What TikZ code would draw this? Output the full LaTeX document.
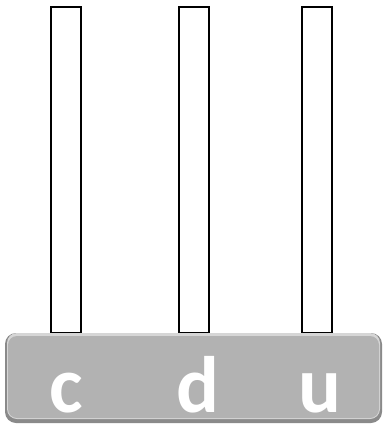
\documentclass[tikz,border=0pt]{standalone}
\usepackage{fontspec}
\newfontfamily\digitfont{Carlito}
\usepackage{tikz}
\usetikzlibrary{positioning}
\definecolor{slab}{HTML}{B2B2B2}
\definecolor{slabdark}{HTML}{8A8A8A}
\definecolor{slablight}{HTML}{D6D6D6}

\begin{document}
\begin{tikzpicture}[x=1pt, y=-1pt,
  rod/.style={draw=black, line width=2pt, fill=white, minimum width=30pt,
    minimum height=326pt, inner sep=0pt, anchor=north},
  place/.style={font=\digitfont\bfseries\fontsize{80}{80}\selectfont,
    text=white, anchor=base, inner sep=0pt}]
  \useasboundingbox (0,0) rectangle (384,426);
  % Rods
  \foreach \x/\name in {66/c, 194/d, 317/u}
    \node[rod] (rod-\name) at (\x,6) {};
  % Base
  \fill[slabdark, rounded corners=11pt] (5,333) rectangle (382,423);
  \fill[slablight, rounded corners=10pt] (7,333) rectangle (380,419);
  \fill[slab, rounded corners=9pt] (8,336) rectangle (379,418);
  % Labels
  \node[place] (lab-c) at (66,412) {c};
  \node[place] (lab-d) at (198,412) {d};
  \node[place] (lab-u) at (320,412) {u};
\end{tikzpicture}
\end{document}
